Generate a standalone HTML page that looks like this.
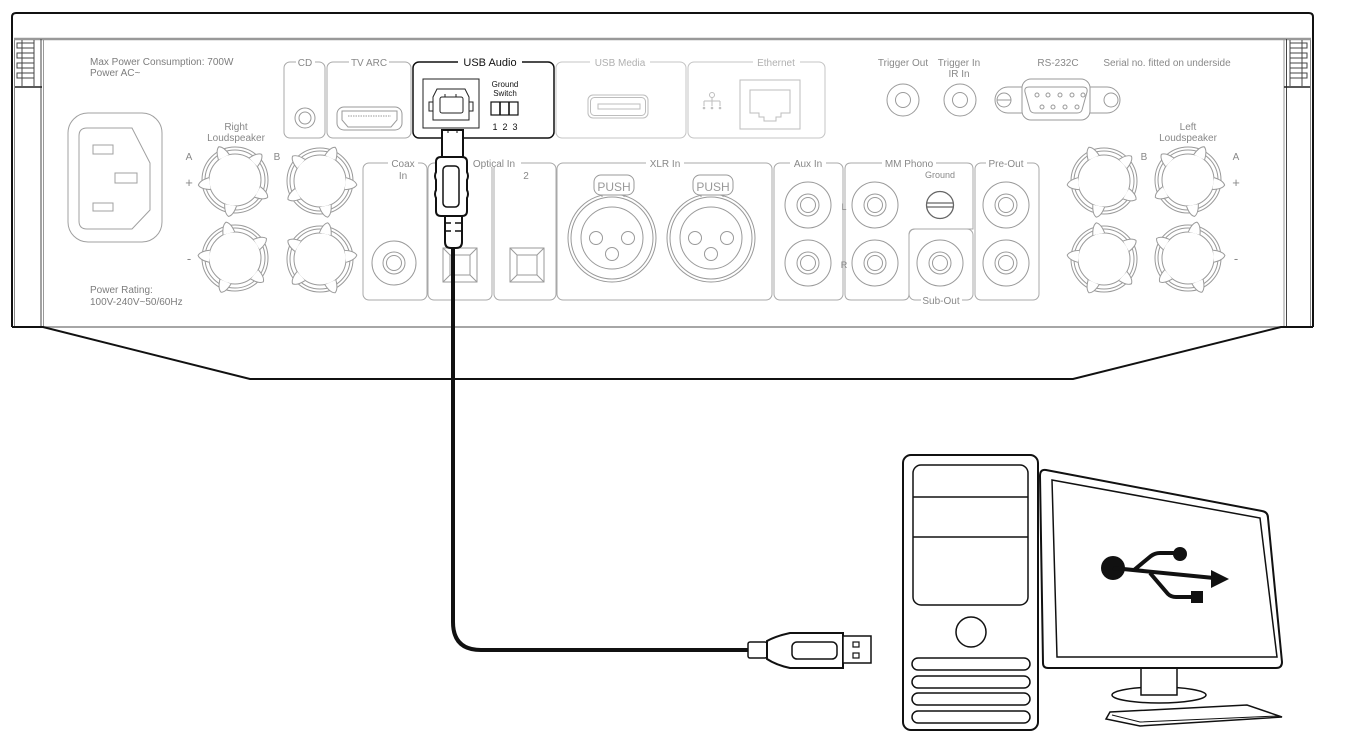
<!DOCTYPE html>
<html><head><meta charset="utf-8"><style>
html,body{margin:0;padding:0;background:#fff;}
svg{display:block;}
text{font-family:"Liberation Sans",Arial,sans-serif;}
</style></head><body>
<svg width="1350" height="746" viewBox="0 0 1350 746" xmlns="http://www.w3.org/2000/svg">
<defs>
  <path id="lobe" d="M25.5,-6 Q35,-4.5 37,0 Q35,4.5 25.5,6" fill="#fff" stroke="#9a9a9a" stroke-width="1"/>
  <g id="lobes">
    <use href="#lobe" transform="rotate(0)"/>
    <use href="#lobe" transform="rotate(72)"/>
    <use href="#lobe" transform="rotate(144)"/>
    <use href="#lobe" transform="rotate(216)"/>
    <use href="#lobe" transform="rotate(288)"/>
  </g>
  <g id="ring" fill="none" stroke="#9a9a9a" stroke-width="1">
    <circle r="33"/><circle r="30"/><circle r="26"/>
  </g>
  <g id="rca" fill="none" stroke="#9a9a9a" stroke-width="1">
    <circle r="23"/><circle r="11"/><circle r="7.5"/>
  </g>
  <g id="xlr" fill="none" stroke="#9a9a9a" stroke-width="1">
    <circle r="44"/><circle r="41"/><circle r="31"/>
    <circle cx="-16" cy="0" r="6.5"/><circle cx="16" cy="0" r="6.5"/><circle cx="0" cy="16" r="6.5"/>
    <line x1="-10" y1="-43" x2="-10" y2="-41"/><line x1="12" y1="-43" x2="12" y2="-41"/>
    <rect x="-18" y="-63" width="40" height="20" rx="7" fill="#fff"/>
  </g>
  <g id="opt" fill="none" stroke="#9a9a9a" stroke-width="1">
    <rect x="0" y="0" width="34" height="34"/>
    <rect x="7" y="7" width="20" height="20"/>
    <line x1="0" y1="0" x2="7" y2="7"/><line x1="34" y1="0" x2="27" y2="7"/>
    <line x1="0" y1="34" x2="7" y2="27"/><line x1="34" y1="34" x2="27" y2="27"/>
  </g>
</defs>

<!-- Chassis -->
<path d="M12,327 V17 Q12,13 16,13 H1309 Q1313,13 1313,17 V327" fill="none" stroke="#111" stroke-width="2"/>
<line x1="14.5" y1="38" x2="14.5" y2="327" stroke="#888" stroke-width="1"/>
<line x1="1310.5" y1="38" x2="1310.5" y2="327" stroke="#888" stroke-width="1"/>
<line x1="14" y1="39" x2="1311" y2="39" stroke="#999" stroke-width="2.5"/>
<line x1="41" y1="39" x2="41" y2="327" stroke="#444" stroke-width="1"/>
<line x1="43.5" y1="39" x2="43.5" y2="327" stroke="#999" stroke-width="1"/>
<line x1="1284" y1="39" x2="1284" y2="327" stroke="#999" stroke-width="1"/>
<line x1="1286.5" y1="39" x2="1286.5" y2="327" stroke="#444" stroke-width="1"/>
<line x1="43" y1="327" x2="1284" y2="327" stroke="#888" stroke-width="1.5"/>
<path d="M12,327 H43 L250,379 H1073 L1281,327 H1313" fill="none" stroke="#111" stroke-width="2"/>

<!-- vents left -->
<g fill="none" stroke="#444" stroke-width="1">
  <rect x="17" y="43" width="17" height="5"/><rect x="17" y="53" width="17" height="5"/>
  <rect x="17" y="63" width="17" height="5"/><rect x="17" y="73" width="17" height="5"/>
  <line x1="22" y1="40" x2="22" y2="86"/><line x1="34" y1="40" x2="34" y2="86"/>
  <line x1="15" y1="87" x2="42" y2="87" stroke-width="1.5" stroke="#222"/>
</g>
<!-- vents right -->
<g fill="none" stroke="#444" stroke-width="1">
  <rect x="1290" y="43" width="17" height="5"/><rect x="1290" y="53" width="17" height="5"/>
  <rect x="1290" y="63" width="17" height="5"/><rect x="1290" y="73" width="17" height="5"/>
  <line x1="1302" y1="40" x2="1302" y2="86"/><line x1="1290" y1="40" x2="1290" y2="86"/>
  <line x1="1284" y1="87" x2="1310" y2="87" stroke-width="1.5" stroke="#222"/>
</g>

<!-- Power texts -->
<g fill="#7d7d7d" font-size="10">
  <text x="90" y="65">Max Power Consumption: 700W</text>
  <text x="90" y="76">Power AC~</text>
  <text x="90" y="293">Power Rating:</text>
  <text x="90" y="305">100V-240V~50/60Hz</text>
</g>

<!-- IEC socket -->
<g fill="none" stroke="#a0a0a0" stroke-width="1">
  <rect x="68" y="113" width="94" height="129" rx="20"/>
  <path d="M87,128 H132 L150,163 V210 L132,229 H87 Q79,229 79,221 V136 Q79,128 87,128 Z"/>
  <rect x="93" y="145" width="20" height="9"/>
  <rect x="115" y="173" width="22" height="10"/>
  <rect x="93" y="203" width="20" height="8"/>
</g>

<!-- Loudspeaker labels -->
<g fill="#888" font-size="10" text-anchor="middle">
  <text x="236" y="130">Right</text>
  <text x="236" y="141">Loudspeaker</text>
  <text x="189" y="160">A</text>
  <text x="277" y="160">B</text>
  <text x="189" y="187" font-size="13">+</text>
  <text x="189" y="263" font-size="13">-</text>
  <text x="1188" y="130">Left</text>
  <text x="1188" y="141">Loudspeaker</text>
  <text x="1144" y="160">B</text>
  <text x="1236" y="160">A</text>
  <text x="1236" y="187" font-size="13">+</text>
  <text x="1236" y="263" font-size="13">-</text>
</g>
<!-- Right speaker posts -->
<g transform="translate(235,180)"><use href="#ring"/><use href="#lobes" transform="rotate(28)"/></g>
<g transform="translate(320,181)"><use href="#ring"/><use href="#lobes" transform="rotate(6)"/></g>
<g transform="translate(235,258)"><use href="#ring"/><use href="#lobes" transform="rotate(40)"/></g>
<g transform="translate(320,259)"><use href="#ring"/><use href="#lobes" transform="rotate(-6)"/></g>
<!-- Left speaker posts (mirrored) -->
<g transform="translate(1104,181) scale(-1,1)"><use href="#ring"/><use href="#lobes" transform="rotate(6)"/></g>
<g transform="translate(1188,180) scale(-1,1)"><use href="#ring"/><use href="#lobes" transform="rotate(28)"/></g>
<g transform="translate(1104,259) scale(-1,1)"><use href="#ring"/><use href="#lobes" transform="rotate(-6)"/></g>
<g transform="translate(1188,258) scale(-1,1)"><use href="#ring"/><use href="#lobes" transform="rotate(40)"/></g>

<!-- Row 1 sections -->
<g fill="none" stroke="#a8a8a8" stroke-width="1">
  <rect x="284" y="62" width="41" height="76" rx="6"/>
  <rect x="327" y="62" width="84" height="76" rx="6"/>
</g>
<g fill="none" stroke="#c4c4c4" stroke-width="1">
  <rect x="556" y="62" width="130" height="76" rx="6"/>
  <rect x="688" y="62" width="137" height="76" rx="6"/>
</g>
<rect x="413" y="62" width="141" height="76" rx="6" fill="none" stroke="#111" stroke-width="1.5"/>
<g fill="#fff">
  <rect x="296" y="58" width="19" height="8"/>
  <rect x="349" y="58" width="40" height="8"/>
  <rect x="458" y="58" width="64" height="8"/>
  <rect x="590" y="58" width="60" height="8"/>
  <rect x="753" y="58" width="47" height="8"/>
</g>
<g font-size="10" text-anchor="middle">
  <text x="305" y="66" fill="#888">CD</text>
  <text x="369" y="66" fill="#888">TV ARC</text>
  <text x="490" y="66" fill="#111" font-size="11">USB Audio</text>
  <text x="620" y="66" fill="#b0b0b0">USB Media</text>
  <text x="776" y="66" fill="#b0b0b0">Ethernet</text>
</g>

<!-- CD coax -->
<g fill="none" stroke="#9a9a9a" stroke-width="1">
  <circle cx="305" cy="118" r="10"/><circle cx="305" cy="118" r="6"/>
</g>
<!-- HDMI -->
<g fill="none" stroke="#9a9a9a" stroke-width="1">
  <rect x="337" y="107" width="65" height="23" rx="7"/>
  <path d="M342,111 H397 V120 L391,127 H348 L342,120 Z"/>
  <line x1="348" y1="116" x2="391" y2="116" stroke-dasharray="1.5 1"/>
</g>

<!-- USB-B port -->
<g fill="none" stroke="#222" stroke-width="1">
  <rect x="423" y="79" width="56" height="49"/>
  <path d="M437,89 H465 L469,97 V120 H433 V97 Z"/>
  <rect x="429" y="102" width="4" height="9"/>
  <rect x="469" y="102" width="4" height="9"/>
  <rect x="440" y="97" width="23" height="16" rx="2"/>
  <line x1="445" y1="94" x2="445" y2="97"/><line x1="456" y1="94" x2="456" y2="97"/>
</g>
<!-- Ground switch -->
<g fill="#111" font-size="8" text-anchor="middle">
  <text x="505" y="87">Ground</text>
  <text x="505" y="96">Switch</text>
  <text x="495" y="130" font-size="9">1</text>
  <text x="505" y="130" font-size="9">2</text>
  <text x="515" y="130" font-size="9">3</text>
</g>
<g fill="none" stroke="#111" stroke-width="1.2">
  <rect x="491" y="102" width="27" height="13"/>
  <line x1="500" y1="102" x2="500" y2="115" stroke-width="1.6"/>
  <line x1="509" y1="102" x2="509" y2="115" stroke-width="1.6"/>
</g>

<!-- USB Media port -->
<g fill="none" stroke="#bdbdbd" stroke-width="1">
  <rect x="588" y="95" width="60" height="23" rx="5"/>
  <rect x="590.5" y="97.5" width="55" height="18" rx="4"/>
  <rect x="598" y="104" width="42" height="5"/>
</g>
<!-- Ethernet -->
<g fill="none" stroke="#bdbdbd" stroke-width="1">
  <rect x="740" y="80" width="60" height="49"/>
  <path d="M750,90 H790 V113 H781 V117 H776 V121 H764 V117 H759 V113 H750 Z"/>
  <circle cx="712" cy="95" r="2.5"/>
  <line x1="712" y1="97.5" x2="712" y2="101"/>
  <line x1="704" y1="101" x2="720" y2="101"/>
  <line x1="704" y1="101" x2="704" y2="106"/><line x1="712" y1="101" x2="712" y2="106"/><line x1="720" y1="101" x2="720" y2="106"/>
  <circle cx="704" cy="108" r="0.8"/><circle cx="712" cy="108" r="0.8"/><circle cx="720" cy="108" r="0.8"/>
</g>

<!-- Trigger / RS232 -->
<g fill="#888" font-size="10" text-anchor="middle">
  <text x="903" y="66">Trigger Out</text>
  <text x="959" y="66">Trigger In</text>
  <text x="959" y="77">IR In</text>
  <text x="1058" y="66">RS-232C</text>
  <text x="1167" y="66">Serial no. fitted on underside</text>
</g>
<g fill="none" stroke="#9a9a9a" stroke-width="1">
  <circle cx="903" cy="100" r="16"/><circle cx="903" cy="100" r="7.5"/>
  <circle cx="960" cy="100" r="16"/><circle cx="960" cy="100" r="7.5"/>
  <rect x="995" y="87" width="125" height="26" rx="13"/>
  <rect x="1022" y="79" width="68" height="41" rx="9" fill="#fff"/>
  <path d="M1029,87 H1083 Q1088,87 1087,92 L1082,110 Q1081,113 1077,113 H1035 Q1031,113 1030,110 L1025,92 Q1024,87 1029,87 Z"/>
  <circle cx="1004" cy="100" r="7"/><line x1="997" y1="100" x2="1011" y2="100"/>
  <circle cx="1111" cy="100" r="7"/>
  <circle cx="1037" cy="95" r="2"/><circle cx="1048" cy="95" r="2"/><circle cx="1060" cy="95" r="2"/><circle cx="1072" cy="95" r="2"/><circle cx="1083" cy="95" r="2"/>
  <circle cx="1042" cy="107" r="2"/><circle cx="1053" cy="107" r="2"/><circle cx="1065" cy="107" r="2"/><circle cx="1077" cy="107" r="2"/>
</g>

<!-- Row 2 sections -->
<g fill="none" stroke="#a8a8a8" stroke-width="1">
  <rect x="363" y="163" width="64" height="137" rx="6"/>
  <rect x="428" y="163" width="64" height="137" rx="6"/>
  <rect x="494" y="163" width="62" height="137" rx="6"/>
  <rect x="557" y="163" width="215" height="137" rx="6"/>
  <rect x="774" y="163" width="69" height="137" rx="6"/>
  <path d="M851,163 H967 Q973,163 973,169 V229 H915 Q909,229 909,235 V294 Q909,300 903,300 H851 Q845,300 845,294 V169 Q845,163 851,163 Z"/>
  <rect x="909" y="229" width="64" height="71" rx="6"/>
  <rect x="975" y="163" width="64" height="137" rx="6"/>
</g>
<g fill="#fff">
  <rect x="388" y="159" width="30" height="8"/>
  <rect x="467" y="159" width="54" height="8"/>
  <rect x="646" y="159" width="38" height="8"/>
  <rect x="790" y="159" width="36" height="8"/>
  <rect x="882" y="159" width="54" height="8"/>
  <rect x="986" y="159" width="41" height="8"/>
  <rect x="921" y="296" width="41" height="8"/>
</g>
<g fill="#888" font-size="10" text-anchor="middle">
  <text x="403" y="167">Coax</text>
  <text x="403" y="179">In</text>
  <text x="494" y="167">Optical In</text>
  <text x="526" y="179">2</text>
  <text x="665" y="167">XLR In</text>
  <text x="808" y="167">Aux In</text>
  <text x="909" y="167">MM Phono</text>
  <text x="940" y="178" font-size="9">Ground</text>
  <text x="1006" y="167">Pre-Out</text>
  <text x="941" y="304">Sub-Out</text>
  <text x="844" y="210" font-size="9">L</text>
  <text x="844" y="268" font-size="9">R</text>
</g>

<!-- Coax -->
<g fill="none" stroke="#9a9a9a" stroke-width="1">
  <circle cx="394" cy="263" r="22"/><circle cx="394" cy="263" r="11"/><circle cx="394" cy="263" r="7.5"/>
</g>
<!-- Optical -->
<use href="#opt" x="443" y="248"/>
<use href="#opt" x="510" y="248"/>
<!-- XLR -->
<use href="#xlr" x="612" y="238"/>
<use href="#xlr" x="711" y="238"/>
<g fill="#999" font-size="12" text-anchor="middle">
  <text x="614" y="191">PUSH</text>
  <text x="713" y="191">PUSH</text>
</g>
<!-- RCAs -->
<use href="#rca" x="808" y="205"/>
<use href="#rca" x="808" y="263"/>
<use href="#rca" x="875" y="205"/>
<use href="#rca" x="875" y="263"/>
<use href="#rca" x="940" y="263"/>
<use href="#rca" x="1006" y="205"/>
<use href="#rca" x="1006" y="263"/>
<!-- Ground screw -->
<g fill="none" stroke="#666" stroke-width="1.3">
  <circle cx="940" cy="205" r="13.5"/>
  <line x1="927" y1="203" x2="953" y2="203"/>
  <line x1="927" y1="207" x2="953" y2="207"/>
</g>

<!-- Cable -->
<path d="M453,245 V622 Q453,650 481,650 H750" fill="none" stroke="#111" stroke-width="4"/>

<!-- USB-B plug -->
<g fill="#fff" stroke="#111" stroke-width="2">
  <rect x="442" y="130" width="21" height="29"/>
  <path d="M441,157 H462 Q467,157 467,162 V172 Q469,176 467,180 V190 Q469,194 467,198 V211 Q467,216 462,216 H441 Q436,216 436,211 V198 Q434,194 436,190 V180 Q434,176 436,172 V162 Q436,157 441,157 Z"/>
  <rect x="443" y="166" width="16" height="41" rx="4" stroke-width="1.5"/>
  <path d="M445,216 H462 V242 Q462,248 456,248 H451 Q445,248 445,242 Z"/>
  <line x1="445" y1="223" x2="451" y2="223" stroke-width="1.5"/><line x1="455" y1="223" x2="462" y2="223" stroke-width="1.5"/>
  <line x1="445" y1="231" x2="451" y2="231" stroke-width="1.5"/><line x1="455" y1="231" x2="462" y2="231" stroke-width="1.5"/>
</g>
<line x1="448" y1="131" x2="448" y2="133" stroke="#111" stroke-width="1"/>
<line x1="457" y1="131" x2="457" y2="133" stroke="#111" stroke-width="1"/>

<!-- USB-A plug -->
<g fill="#fff" stroke="#111" stroke-width="2">
  <rect x="748" y="642" width="19" height="16" rx="2" stroke-width="1.5"/>
  <path d="M767,641 Q776,636 790,633 H843 V668 H790 Q776,665 767,659 Z"/>
  <rect x="792" y="642" width="45" height="17" rx="5" stroke-width="1.5"/>
  <rect x="843" y="636" width="28" height="27" stroke-width="1.5"/>
  <rect x="853" y="642" width="6" height="5" stroke-width="1.2"/>
  <rect x="853" y="653" width="6" height="5" stroke-width="1.2"/>
</g>

<!-- Computer tower -->
<g fill="#fff" stroke="#111" stroke-width="2">
  <rect x="903" y="455" width="135" height="275" rx="8"/>
</g>
<g fill="none" stroke="#111" stroke-width="1.5">
  <rect x="913" y="465" width="115" height="140" rx="8"/>
  <line x1="913" y1="497" x2="1028" y2="497"/>
  <line x1="913" y1="537" x2="1028" y2="537"/>
  <circle cx="971" cy="632" r="15"/>
  <rect x="912" y="658" width="118" height="12" rx="6"/>
  <rect x="912" y="676" width="118" height="12" rx="6"/>
  <rect x="912" y="693" width="118" height="12" rx="6"/>
  <rect x="912" y="711" width="118" height="12" rx="6"/>
</g>
<!-- Monitor -->
<g fill="#fff" stroke="#111">
  <ellipse cx="1159" cy="695" rx="47" ry="8" stroke-width="1.5"/>
  <rect x="1141" y="668" width="36" height="27" stroke-width="1.5"/>
  <path d="M1046,470 L1262,511 Q1268,512 1268,518 L1282,662 Q1282,668 1276,668 H1048 Q1043,668 1043,663 L1040,476 Q1040,469 1046,470 Z" stroke-width="2"/>
  <path d="M1052,480 L1260,518 L1277,657 H1057 Z" fill="none" stroke-width="1.5"/>
  <path d="M1110,712 L1247,705 L1282,717 L1140,726 L1106,719 Z" stroke-width="1.5"/>
  <path d="M1112,715 L1140,722 L1278,716" fill="none" stroke-width="1"/>
</g>
<!-- USB logo -->
<g fill="#111" stroke="none">
  <circle cx="1113" cy="568" r="12"/>
  <circle cx="1180" cy="554" r="7"/>
  <rect x="1191" y="591" width="12" height="12"/>
  <polygon points="1211,570 1229,579 1211,588"/>
</g>
<g fill="none" stroke="#111" stroke-width="4" stroke-linecap="butt">
  <line x1="1113" y1="568" x2="1214" y2="578"/>
  <path d="M1134,570 L1151,556 Q1155,553 1160,553 H1176"/>
  <path d="M1150,573 L1168,594 Q1171,597 1176,597 H1193"/>
</g>
</svg>
</body></html>
